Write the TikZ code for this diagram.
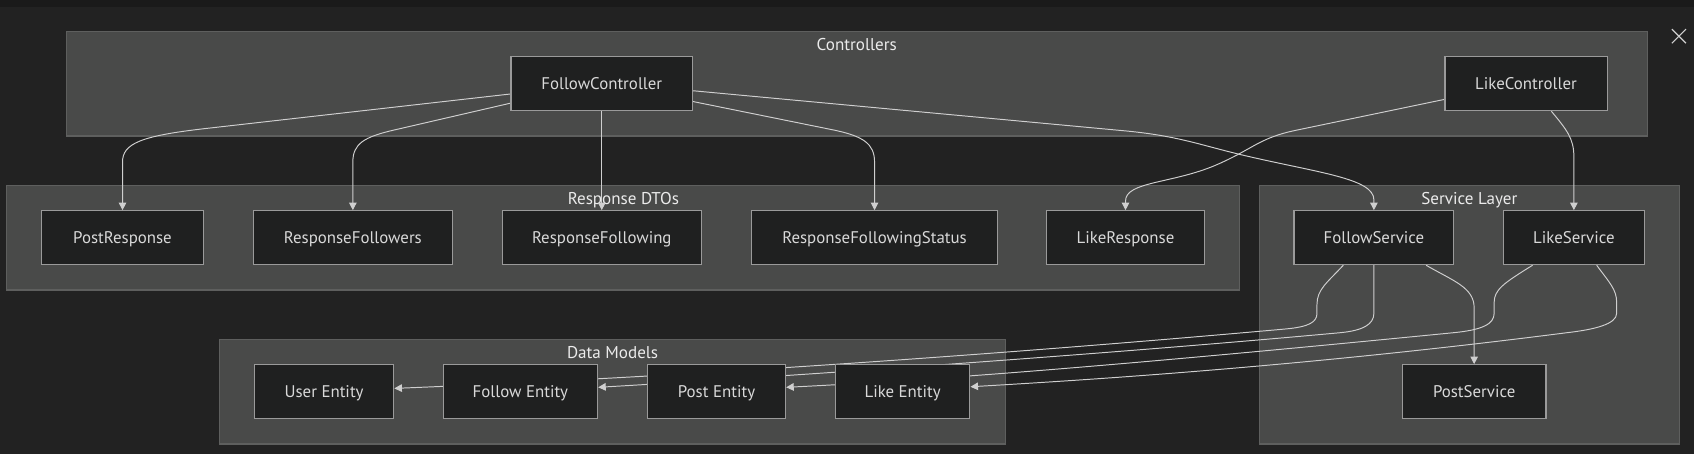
\documentclass[tikz,border=0pt]{standalone}
\usepackage{fontspec}
\setmainfont{PT Sans}
\usetikzlibrary{arrows.meta}

\definecolor{fond}{HTML}{222222}
\definecolor{bandeau}{HTML}{1A1A1A}
\definecolor{gris}{HTML}{494A49}
\definecolor{bordcadre}{HTML}{5E5F5E}
\definecolor{noir}{HTML}{1F2020}
\definecolor{bordgris}{HTML}{9A9A9A}
\definecolor{texte}{HTML}{D9D9D9}
\definecolor{blanc}{HTML}{EBEBEB}
\definecolor{trait}{HTML}{CFCFCF}

\pgfdeclarelayer{dessous}
\pgfdeclarelayer{liens}
\pgfsetlayers{dessous,liens,main}

\begin{document}
\begin{tikzpicture}[x=1pt, y=-1pt]
  \tikzstyle{classe}=[rectangle, draw=bordgris, fill=noir, line width=1pt, minimum height=50pt, inner sep=0, text height=10.9pt, text depth=0pt, text=texte, font=\fontsize{15.6}{18}\selectfont];
  \tikzstyle{cadre}=[draw=bordcadre, fill=gris, line width=1pt];
  \tikzstyle{titre}=[inner sep=0, text height=11pt, text depth=0pt, text=blanc, font=\fontsize{15.8}{18}\selectfont];
  \tikzstyle{arete}=[draw=trait, line width=0.9pt, -{Triangle[length=7pt, width=7pt]}];

  \useasboundingbox (0,0) rectangle (1568,420.2);

  % classes
  \node[classe, minimum width=168pt] (FC) at (557,77.5) {FollowController};
  \node[classe, minimum width=150pt] (LC) at (1412.5,77.5) {LikeController};

  \node[classe, minimum width=150pt] (PR) at (113.4,220) {PostResponse};
  \node[classe, minimum width=184.6pt] (RFers) at (326.6,220) {ResponseFollowers};
  \node[classe, minimum width=184.6pt] (RFing) at (557,220) {ResponseFollowing};
  \node[classe, minimum width=227pt] (RFS) at (809.5,220) {ResponseFollowingStatus};
  \node[classe, minimum width=147pt] (LR) at (1041.8,220) {LikeResponse};

  \node[classe, minimum width=148pt] (FS) at (1271.7,220) {FollowService};
  \node[classe, minimum width=130.5pt] (LS) at (1456.8,220) {LikeService};
  \node[classe, minimum width=133pt] (PS) at (1364.5,362.5) {PostService};

  \node[classe, minimum width=129pt] (UE) at (300,362.5) {User Entity};
  \node[classe, minimum width=143pt] (FE) at (481.7,362.5) {Follow Entity};
  \node[classe, minimum width=128pt] (PE) at (663.2,362.5) {Post Entity};
  \node[classe, minimum width=124.6pt] (LE) at (835.5,362.5) {Like Entity};

  % fond et groupes
  \begin{pgfonlayer}{dessous}
    \fill[fond] (0,0) rectangle (1568,420.2);
    \fill[bandeau] (0,0) rectangle (1568,6.8);
    \draw[trait, line width=1.1pt] (1547.5,27) -- (1560.5,40) (1547.5,40) -- (1560.5,27);

    \draw[cadre] (61.2,29.3) rectangle (1525,125.9);
    \draw[cadre] (6,171.9) rectangle (1147.4,268.4);
    \draw[cadre] (1165.9,171.9) rectangle (1554.5,411);
    \draw[cadre] (203.2,314.5) rectangle (930.5,411);

    \node[titre] (tCtrl) at (793,41) {Controllers};
    \node[titre] (tDto) at (577,183.6) {Response DTOs};
    \node[titre] (tServ) at (1360,183.6) {Service Layer};
    \node[titre] (tData) at (567,326) {Data Models};
  \end{pgfonlayer}

  % liens
  \begin{pgfonlayer}{liens}
    \draw[arete] ([yshift=-9.5pt]FC.west) -- (190,119) .. controls (130,125.8) and (113.4,133) .. (113.4,150) -- (PR.north);
    \draw[arete] ([yshift=-18pt]FC.west) -- (365,120.3) .. controls (337,126.7) and (326.6,133) .. (326.6,150) -- (RFers.north);
    \draw[arete] (FC.south) -- (RFing.north);
    \draw[arete] ([yshift=-16.5pt]FC.east) -- (770,120) .. controls (799,125.8) and (809.5,133) .. (809.5,150) -- (RFS.north);
    \draw[arete] ([yshift=-6.5pt]FC.east) -- (1040,121) .. controls (1090,125.6) and (1110,134) .. (1150,143.5) .. controls (1220,160) and (1271.7,165) .. (1271.7,185) -- (FS.north);

    \draw[arete] ([yshift=-14.5pt]LC.west) -- (1200,120.5) .. controls (1165,127.7) and (1160,138) .. (1125,153) .. controls (1085,170) and (1041.8,168) .. (1041.8,186) -- (LR.north);
    \draw[arete] ([xshift=23.5pt]LC.south) .. controls (1450,120) and (1456.8,128) .. (1456.8,145) -- (LS.north);

    \draw[arete] ([xshift=48.3pt]FS.south) .. controls (1345,260) and (1364.5,266) .. (1364.5,285) -- (PS.north);
    \draw[arete] ([xshift=-28.3pt]FS.south) .. controls (1228,262) and (1219,268) .. (1219,282) -- (1219,290) .. controls (1219,298) and (1212,302.5) .. (1190,304.5) .. controls (950,326) and (650,348) .. ([yshift=3pt]UE.east);
    \draw[arete] (FS.south) -- (1271.7,290) .. controls (1271.7,300) and (1262,306) .. (1240,308) .. controls (1000,330) and (700,350) .. ([yshift=4pt]FE.east);

    \draw[arete] ([xshift=-38.2pt]LS.south) .. controls (1392,262) and (1383,268) .. (1383,280) -- (1383,290) .. controls (1383,300) and (1372,305.4) .. (1345,308) .. controls (1100,332) and (900,350) .. ([yshift=4pt]PE.east);
    \draw[arete] ([xshift=21.1pt]LS.south) .. controls (1490,262) and (1496.4,268) .. (1496.4,280) -- (1496.4,290) .. controls (1496.4,300) and (1476,305) .. (1450,308) .. controls (1200,340) and (1000,352) .. ([yshift=4.5pt]LE.east);
  \end{pgfonlayer}
\end{tikzpicture}
\end{document}
